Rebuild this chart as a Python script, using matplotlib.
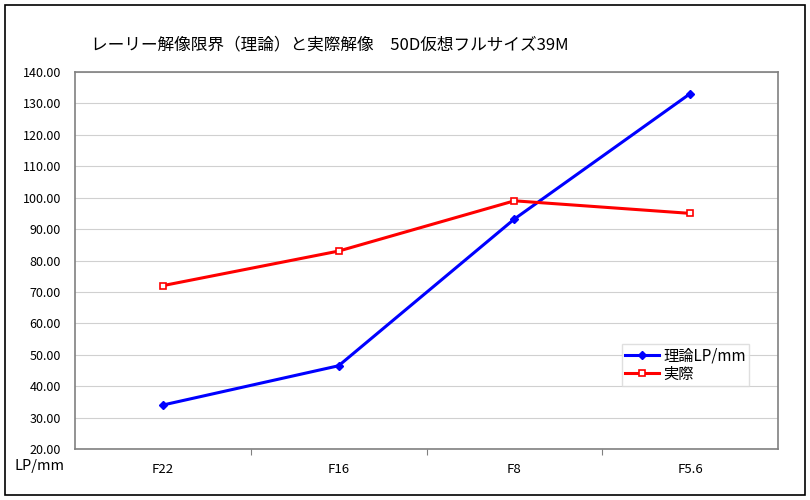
import matplotlib
matplotlib.use("Agg")
import matplotlib.pyplot as plt
from matplotlib.patches import Rectangle

plt.rcParams['font.family'] = ['Noto Sans CJK JP', 'DejaVu Sans']

categories = ["F22", "F16", "F8", "F5.6"]
theory = [34.0, 46.5, 93.2, 133.1]
actual = [72.0, 83.0, 99.0, 95.0]
yticks = [20, 30, 40, 50, 60, 70, 80, 90, 100, 110, 120, 130, 140]
title = "レーリー解像限界（理論）と実際解像　50D仮想フルサイズ39M"

fig = plt.figure(figsize=(8.1, 5.0), dpi=100)
fig.patches.append(Rectangle((5/810, 5/500), 800/810, 490/500, transform=fig.transFigure,
                             fill=False, edgecolor='black', linewidth=1.2))
ax = fig.add_axes([75/810, 51/500, 703/810, 377/500])
x = list(range(len(categories)))
ax.plot(x, theory, color='#0000ff', linewidth=2.2, marker='D', markersize=4.5,
        markerfacecolor='#0000ff', markeredgecolor='#0000ff', label='理論LP/mm')
ax.plot(x, actual, color='#ff0000', linewidth=2.2, marker='s', markersize=5,
        markerfacecolor='white', markeredgecolor='#ff0000', markeredgewidth=1.2, label='実際')
ax.set_xlim(-0.5, len(categories) - 0.5)
ax.set_ylim(20, 140)
ax.set_yticks(yticks)
ax.set_yticklabels([f"{v:.2f}" for v in yticks], fontsize=9)
ax.yaxis.grid(True, color='#d0d0d0', linewidth=0.8)
ax.set_axisbelow(True)
ax.set_xticks([i + 0.5 for i in range(len(categories) - 1)])
ax.set_xticklabels([])
ax.set_xticks(x, minor=True)
ax.set_xticklabels(categories, minor=True, fontsize=9.5)
ax.tick_params(axis='x', which='minor', length=0, pad=10)
ax.tick_params(axis='x', which='major', length=4, color='#808080', direction='out')
ax.tick_params(axis='y', length=0, pad=10)
for s in ax.spines.values():
    s.set_color('#808080')
    s.set_linewidth(1.2)
fig.text(40/810, 1 - 466/500, "LP/mm", fontsize=10.5, ha='center', va='center')
fig.text(330/810, 1 - 45/500, title, fontsize=12, ha='center', va='center')
leg = ax.legend(loc='upper left', bbox_to_anchor=(0.778, 0.278), fontsize=11,
                frameon=True, fancybox=False, edgecolor='#d8d8d8', handlelength=2.2,
                borderpad=0.2, labelspacing=0.1, handletextpad=0.3, borderaxespad=0)
fig.savefig("out.png", dpi=100)
